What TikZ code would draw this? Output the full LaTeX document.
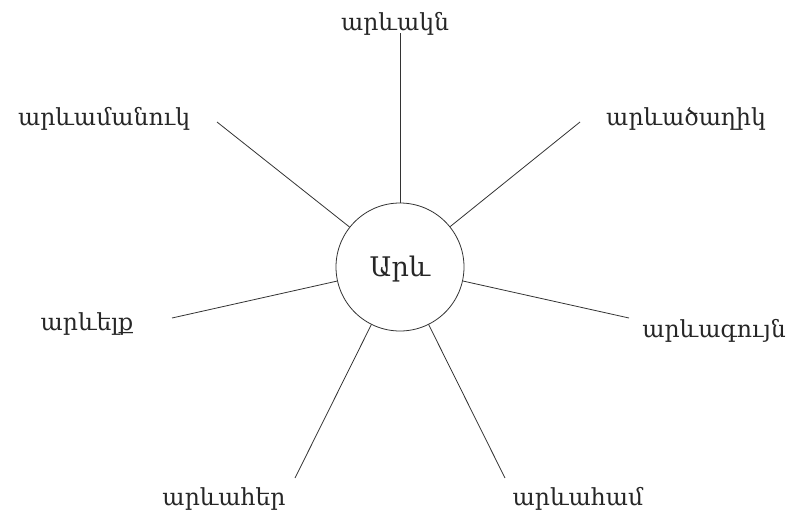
\documentclass[tikz,border=0pt]{standalone}
\usepackage{fontspec}
\setmainfont{DejaVu Serif}
\begin{document}
\begin{tikzpicture}[x=1pt,y=-1pt,
  lbl/.style={anchor=base,inner sep=0pt,font=\fontsize{23.5}{28}\selectfont,text=black!85},
  ray/.style={draw=black!80,line width=0.8pt},
  sun/.style={circle,draw=black!80,line width=0.8pt,minimum size=128pt,inner sep=0pt}]
\useasboundingbox (0,0) rectangle (792,514);
\node[sun] (c) at (400,267) {};
\node[lbl,font=\fontsize{27}{30}\selectfont] (cl) at (400,276) {Արև};
\coordinate (e1) at (400,33);
\coordinate (e2) at (217,122);
\coordinate (e3) at (580,122);
\coordinate (e4) at (172,318);
\coordinate (e5) at (629,318);
\coordinate (e6) at (295,478);
\coordinate (e7) at (505,478);
\foreach \i in {1,...,7} {\draw[ray] (c) -- (e\i);}
\node[lbl] (t1) at (395,30) {արևակն};
\node[lbl] (t2) at (104,125) {արևամանուկ};
\node[lbl] (t3) at (686,125) {արևածաղիկ};
\node[lbl] (t4) at (87,330) {արևելք};
\node[lbl] (t5) at (714,337) {արևագույն};
\node[lbl] (t6) at (224,505) {արևահեր};
\node[lbl] (t7) at (578,505) {արևահամ};
\end{tikzpicture}
\end{document}
